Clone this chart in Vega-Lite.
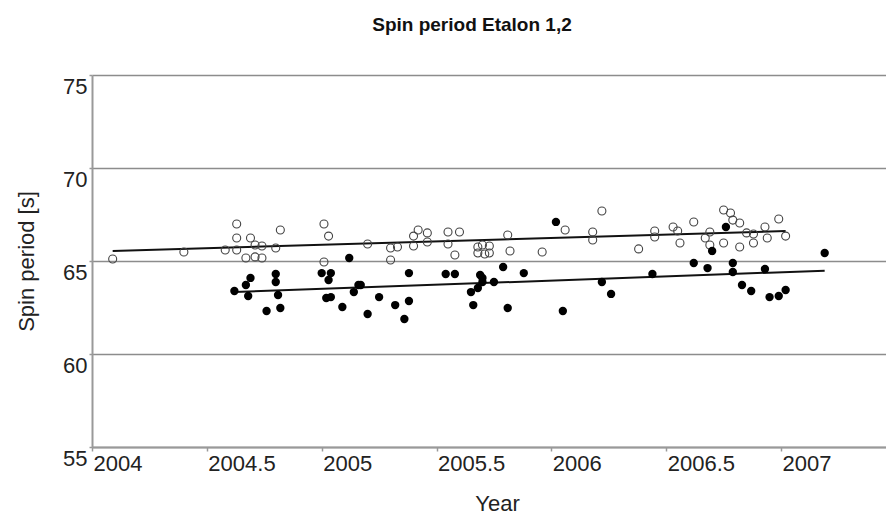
{
  "$schema": "https://vega.github.io/schema/vega-lite/v6.json",
  "width": 794,
  "height": 372,
  "autosize": {"type": "none"},
  "padding": {"left": 92, "top": 75, "right": 0, "bottom": 67},
  "background": "white",
  "title": {
    "text": "Spin period Etalon 1,2",
    "font": "Liberation Sans",
    "fontSize": 19,
    "fontWeight": "bold",
    "color": "#111111",
    "anchor": "middle",
    "frame": "group",
    "baseline": "alphabetic",
    "offset": 24,
    "dx": -17
  },
  "config": {
    "view": {"stroke": null},
    "axis": {
      "labelFont": "Liberation Sans",
      "titleFont": "Liberation Sans",
      "labelFontSize": 22,
      "titleFontSize": 22,
      "labelColor": "#222222",
      "titleColor": "#222222",
      "titleFontWeight": "normal",
      "domainColor": "#999999",
      "domainWidth": 2,
      "tickColor": "#999999",
      "tickWidth": 1.5,
      "gridColor": "#8c8c8c",
      "gridWidth": 1.5
    }
  },
  "datasets": {
    "pts": [
      {"year": 2004.09, "period": 65.11, "sat": "Etalon 1"},
      {"year": 2004.40, "period": 65.48, "sat": "Etalon 1"},
      {"year": 2004.58, "period": 65.59, "sat": "Etalon 1"},
      {"year": 2004.63, "period": 66.99, "sat": "Etalon 1"},
      {"year": 2004.63, "period": 66.24, "sat": "Etalon 1"},
      {"year": 2004.63, "period": 65.59, "sat": "Etalon 1"},
      {"year": 2004.69, "period": 66.24, "sat": "Etalon 1"},
      {"year": 2004.71, "period": 65.86, "sat": "Etalon 1"},
      {"year": 2004.74, "period": 65.81, "sat": "Etalon 1"},
      {"year": 2004.80, "period": 65.70, "sat": "Etalon 1"},
      {"year": 2004.67, "period": 65.16, "sat": "Etalon 1"},
      {"year": 2004.71, "period": 65.22, "sat": "Etalon 1"},
      {"year": 2004.74, "period": 65.16, "sat": "Etalon 1"},
      {"year": 2004.82, "period": 66.67, "sat": "Etalon 1"},
      {"year": 2005.01, "period": 66.99, "sat": "Etalon 1"},
      {"year": 2005.03, "period": 66.34, "sat": "Etalon 1"},
      {"year": 2005.01, "period": 64.95, "sat": "Etalon 1"},
      {"year": 2005.20, "period": 65.91, "sat": "Etalon 1"},
      {"year": 2005.30, "period": 65.70, "sat": "Etalon 1"},
      {"year": 2005.33, "period": 65.75, "sat": "Etalon 1"},
      {"year": 2005.30, "period": 65.05, "sat": "Etalon 1"},
      {"year": 2005.40, "period": 66.34, "sat": "Etalon 1"},
      {"year": 2005.40, "period": 65.81, "sat": "Etalon 1"},
      {"year": 2005.42, "period": 66.67, "sat": "Etalon 1"},
      {"year": 2005.46, "period": 66.51, "sat": "Etalon 1"},
      {"year": 2005.46, "period": 66.02, "sat": "Etalon 1"},
      {"year": 2005.55, "period": 66.56, "sat": "Etalon 1"},
      {"year": 2005.55, "period": 65.91, "sat": "Etalon 1"},
      {"year": 2005.58, "period": 65.32, "sat": "Etalon 1"},
      {"year": 2005.60, "period": 66.56, "sat": "Etalon 1"},
      {"year": 2005.68, "period": 65.75, "sat": "Etalon 1"},
      {"year": 2005.70, "period": 65.86, "sat": "Etalon 1"},
      {"year": 2005.73, "period": 65.81, "sat": "Etalon 1"},
      {"year": 2005.68, "period": 65.43, "sat": "Etalon 1"},
      {"year": 2005.71, "period": 65.38, "sat": "Etalon 1"},
      {"year": 2005.73, "period": 65.43, "sat": "Etalon 1"},
      {"year": 2005.81, "period": 66.40, "sat": "Etalon 1"},
      {"year": 2005.82, "period": 65.54, "sat": "Etalon 1"},
      {"year": 2005.96, "period": 65.48, "sat": "Etalon 1"},
      {"year": 2006.06, "period": 66.67, "sat": "Etalon 1"},
      {"year": 2006.18, "period": 66.56, "sat": "Etalon 1"},
      {"year": 2006.18, "period": 66.13, "sat": "Etalon 1"},
      {"year": 2006.22, "period": 67.69, "sat": "Etalon 1"},
      {"year": 2006.38, "period": 65.65, "sat": "Etalon 1"},
      {"year": 2006.45, "period": 66.61, "sat": "Etalon 1"},
      {"year": 2006.45, "period": 66.29, "sat": "Etalon 1"},
      {"year": 2006.53, "period": 66.83, "sat": "Etalon 1"},
      {"year": 2006.55, "period": 66.61, "sat": "Etalon 1"},
      {"year": 2006.56, "period": 65.97, "sat": "Etalon 1"},
      {"year": 2006.62, "period": 67.10, "sat": "Etalon 1"},
      {"year": 2006.67, "period": 66.24, "sat": "Etalon 1"},
      {"year": 2006.69, "period": 66.56, "sat": "Etalon 1"},
      {"year": 2006.69, "period": 65.86, "sat": "Etalon 1"},
      {"year": 2006.75, "period": 67.74, "sat": "Etalon 1"},
      {"year": 2006.78, "period": 67.58, "sat": "Etalon 1"},
      {"year": 2006.79, "period": 67.20, "sat": "Etalon 1"},
      {"year": 2006.82, "period": 67.04, "sat": "Etalon 1"},
      {"year": 2006.75, "period": 65.97, "sat": "Etalon 1"},
      {"year": 2006.82, "period": 65.75, "sat": "Etalon 1"},
      {"year": 2006.85, "period": 66.51, "sat": "Etalon 1"},
      {"year": 2006.88, "period": 66.45, "sat": "Etalon 1"},
      {"year": 2006.88, "period": 65.97, "sat": "Etalon 1"},
      {"year": 2006.93, "period": 66.83, "sat": "Etalon 1"},
      {"year": 2006.94, "period": 66.24, "sat": "Etalon 1"},
      {"year": 2006.99, "period": 67.26, "sat": "Etalon 1"},
      {"year": 2007.02, "period": 66.34, "sat": "Etalon 1"},
      {"year": 2004.62, "period": 63.39, "sat": "Etalon 2"},
      {"year": 2004.67, "period": 63.71, "sat": "Etalon 2"},
      {"year": 2004.69, "period": 64.09, "sat": "Etalon 2"},
      {"year": 2004.68, "period": 63.12, "sat": "Etalon 2"},
      {"year": 2004.76, "period": 62.31, "sat": "Etalon 2"},
      {"year": 2004.80, "period": 64.30, "sat": "Etalon 2"},
      {"year": 2004.80, "period": 63.87, "sat": "Etalon 2"},
      {"year": 2004.81, "period": 63.17, "sat": "Etalon 2"},
      {"year": 2004.82, "period": 62.47, "sat": "Etalon 2"},
      {"year": 2005.00, "period": 64.35, "sat": "Etalon 2"},
      {"year": 2005.04, "period": 64.35, "sat": "Etalon 2"},
      {"year": 2005.03, "period": 63.98, "sat": "Etalon 2"},
      {"year": 2005.02, "period": 63.01, "sat": "Etalon 2"},
      {"year": 2005.04, "period": 63.06, "sat": "Etalon 2"},
      {"year": 2005.09, "period": 62.53, "sat": "Etalon 2"},
      {"year": 2005.12, "period": 65.16, "sat": "Etalon 2"},
      {"year": 2005.14, "period": 63.33, "sat": "Etalon 2"},
      {"year": 2005.16, "period": 63.71, "sat": "Etalon 2"},
      {"year": 2005.17, "period": 63.71, "sat": "Etalon 2"},
      {"year": 2005.20, "period": 62.15, "sat": "Etalon 2"},
      {"year": 2005.25, "period": 63.06, "sat": "Etalon 2"},
      {"year": 2005.32, "period": 62.63, "sat": "Etalon 2"},
      {"year": 2005.36, "period": 61.88, "sat": "Etalon 2"},
      {"year": 2005.38, "period": 62.85, "sat": "Etalon 2"},
      {"year": 2005.38, "period": 64.35, "sat": "Etalon 2"},
      {"year": 2005.54, "period": 64.30, "sat": "Etalon 2"},
      {"year": 2005.58, "period": 64.30, "sat": "Etalon 2"},
      {"year": 2005.65, "period": 63.33, "sat": "Etalon 2"},
      {"year": 2005.66, "period": 62.63, "sat": "Etalon 2"},
      {"year": 2005.68, "period": 63.55, "sat": "Etalon 2"},
      {"year": 2005.69, "period": 64.25, "sat": "Etalon 2"},
      {"year": 2005.70, "period": 64.09, "sat": "Etalon 2"},
      {"year": 2005.70, "period": 63.87, "sat": "Etalon 2"},
      {"year": 2005.75, "period": 63.87, "sat": "Etalon 2"},
      {"year": 2005.79, "period": 64.68, "sat": "Etalon 2"},
      {"year": 2005.81, "period": 62.47, "sat": "Etalon 2"},
      {"year": 2005.88, "period": 64.35, "sat": "Etalon 2"},
      {"year": 2006.02, "period": 67.10, "sat": "Etalon 2"},
      {"year": 2006.05, "period": 62.31, "sat": "Etalon 2"},
      {"year": 2006.22, "period": 63.87, "sat": "Etalon 2"},
      {"year": 2006.26, "period": 63.23, "sat": "Etalon 2"},
      {"year": 2006.44, "period": 64.30, "sat": "Etalon 2"},
      {"year": 2006.62, "period": 64.89, "sat": "Etalon 2"},
      {"year": 2006.68, "period": 64.62, "sat": "Etalon 2"},
      {"year": 2006.70, "period": 65.54, "sat": "Etalon 2"},
      {"year": 2006.76, "period": 66.83, "sat": "Etalon 2"},
      {"year": 2006.79, "period": 64.89, "sat": "Etalon 2"},
      {"year": 2006.79, "period": 64.41, "sat": "Etalon 2"},
      {"year": 2006.83, "period": 63.71, "sat": "Etalon 2"},
      {"year": 2006.87, "period": 63.39, "sat": "Etalon 2"},
      {"year": 2006.93, "period": 64.57, "sat": "Etalon 2"},
      {"year": 2006.95, "period": 63.06, "sat": "Etalon 2"},
      {"year": 2006.99, "period": 63.12, "sat": "Etalon 2"},
      {"year": 2007.02, "period": 63.44, "sat": "Etalon 2"},
      {"year": 2007.19, "period": 65.43, "sat": "Etalon 2"}
    ],
    "fit": [
      {"year": 2004.09, "period": 65.54, "sat": "Etalon 1"},
      {"year": 2007.02, "period": 66.61, "sat": "Etalon 1"},
      {"year": 2004.62, "period": 63.33, "sat": "Etalon 2"},
      {"year": 2007.19, "period": 64.48, "sat": "Etalon 2"}
    ]
  },
  "encoding": {
    "x": {
      "field": "year",
      "type": "quantitative",
      "scale": {"domain": [2004, 2007.457], "nice": false, "zero": false},
      "axis": {
        "values": [2004, 2004.5, 2005, 2005.5, 2006, 2006.5, 2007],
        "format": "~g",
        "grid": false,
        "title": "Year",
        "labelAlign": "left",
        "labelBaseline": "top",
        "labelPadding": 2,
        "labelOffset": 1,
        "tickSize": 4,
        "titleX": 405,
        "titleY": 63,
        "titleBaseline": "alphabetic",
        "titleAnchor": "middle"
      }
    },
    "y": {
      "field": "period",
      "type": "quantitative",
      "scale": {"domain": [55, 75], "nice": false, "zero": false},
      "axis": {
        "values": [55, 60, 65, 70, 75],
        "grid": true,
        "title": "Spin period [s]",
        "labelBaseline": "top",
        "labelPadding": 2,
        "labelOffset": 1,
        "tickSize": 3,
        "titleX": -66,
        "titleY": 186,
        "titleBaseline": "middle",
        "titleAnchor": "middle"
      }
    }
  },
  "layer": [
    {
      "data": {"name": "fit"},
      "mark": {"type": "line", "color": "#111111", "strokeWidth": 2},
      "encoding": {"detail": {"field": "sat"}}
    },
    {
      "data": {"name": "pts"},
      "transform": [{"filter": "datum.sat === 'Etalon 1'"}],
      "mark": {"type": "point", "shape": "circle", "filled": false, "stroke": "#444444", "strokeWidth": 1.1, "size": 64, "opacity": 1}
    },
    {
      "data": {"name": "pts"},
      "transform": [{"filter": "datum.sat === 'Etalon 2'"}],
      "mark": {"type": "circle", "color": "#000000", "size": 70, "opacity": 1}
    }
  ]
}
